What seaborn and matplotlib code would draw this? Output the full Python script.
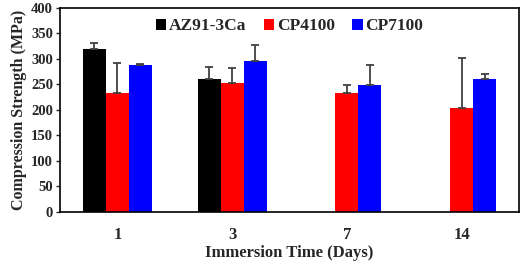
import numpy as np
import pandas as pd
import matplotlib
matplotlib.use("Agg")
import matplotlib.pyplot as plt
import seaborn as sns

days = ["1", "3", "7", "14"]
series = ["AZ91-3Ca", "CP4100", "CP7100"]
az91_mean = [320, 261, np.nan, np.nan]
az91_err = [11, 24, np.nan, np.nan]
cp4100_mean = [233, 252, 233, 204]
cp4100_err = [59, 31, 16, 97]
cp7100_mean = [288, 297, 249, 261]
cp7100_err = [2, 31, 39, 10]
colors = ["#000000", "#ff0000", "#0000ff"]

means = [az91_mean, cp4100_mean, cp7100_mean]
errs = [az91_err, cp4100_err, cp7100_err]
rows = []
for name, m, e in zip(series, means, errs):
    for d, v, s in zip(days, m, e):
        rows.append({"Day": d, "Sample": name, "Strength": v, "Err": s})
df = pd.DataFrame(rows)

sns.set_style("white")
plt.rcParams["font.family"] = ["Liberation Serif", "DejaVu Serif"]
plt.rcParams["font.weight"] = "bold"

fig = plt.figure(figsize=(5.26, 2.66), dpi=100)
ax = fig.add_axes([0.114, 0.203, 0.873, 0.767])

sns.barplot(data=df, x="Day", y="Strength", hue="Sample", order=days,
            hue_order=series, palette=colors, width=0.6, errorbar=None,
            saturation=1, linewidth=0, ax=ax)

# one-sided (upper) error bars on top of each drawn bar
for name, container in zip(series, ax.containers):
    sub = df[df["Sample"] == name].set_index("Day").loc[days]
    for bar, v, s in zip(container, sub["Strength"], sub["Err"]):
        if np.isnan(v):
            continue
        xc = bar.get_x() + bar.get_width() / 2
        ax.errorbar(xc, v, yerr=[[0], [s]], fmt="none", ecolor="#404040",
                    elinewidth=1.3, capsize=3, capthick=1.3)

ax.set_ylim(0, 400)
ax.set_yticks(range(0, 401, 50))
ax.set_xlim(-0.5, 3.5)
ax.set_ylabel("Compression Strength (MPa)", fontsize=11.5, fontweight="bold",
              labelpad=3)
ax.set_xlabel("Immersion Time (Days)", fontsize=12, fontweight="bold",
              labelpad=1)
ax.tick_params(axis="y", labelsize=10.5, length=3, direction="out", left=True,
               width=1, pad=2)
ax.tick_params(axis="x", labelsize=12, length=0, pad=11)
for lbl in ax.get_xticklabels() + ax.get_yticklabels():
    lbl.set_fontweight("bold")
for sp in ax.spines.values():
    sp.set_color("black")
    sp.set_linewidth(1.2)

ax.legend(loc="upper center", ncol=3, frameon=False,
          handlelength=0.6, handleheight=0.6, handletextpad=0.15,
          columnspacing=1.0, borderaxespad=0.2,
          prop={"weight": "bold", "size": 12.5})

fig.savefig("out.png", dpi=100)
